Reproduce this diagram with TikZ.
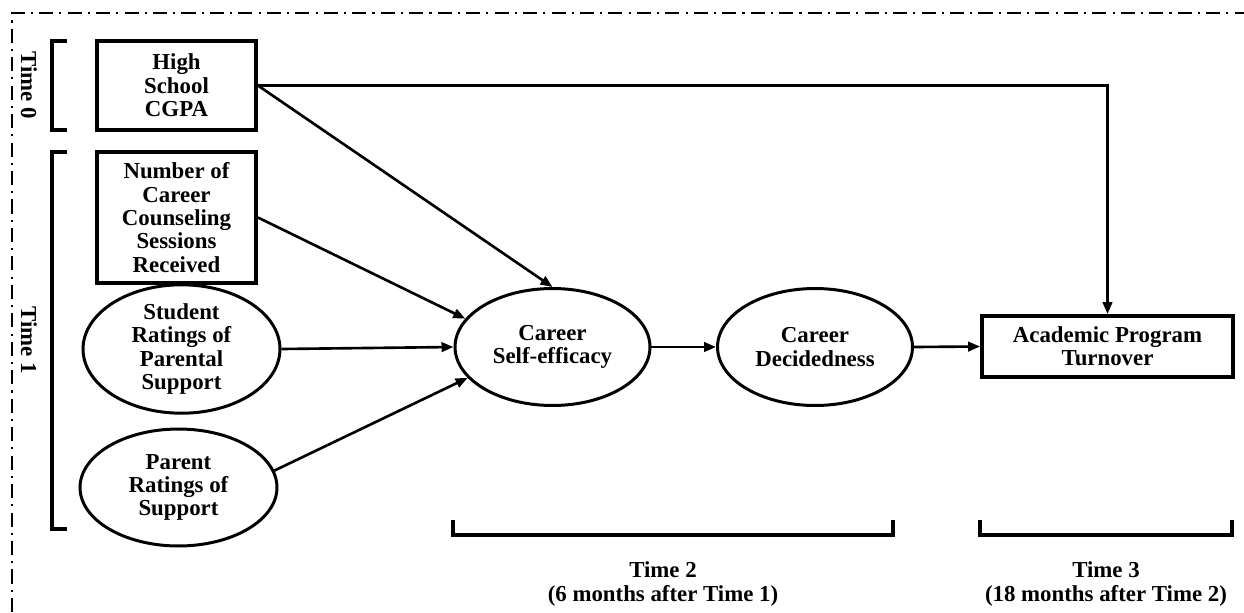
\documentclass[tikz,border=0pt]{standalone}
\usepackage{fontspec}
\setmainfont{Liberation Serif}
\usetikzlibrary{arrows.meta,shapes.geometric}

\begin{document}
\begin{tikzpicture}[x=0.02cm, y=-0.02cm,
  every node/.style={font=\bfseries\fontsize{13}{13.3}\selectfont, align=center},
  varbox/.style={shape=rectangle, draw=black, line width=2.2pt, inner sep=0pt},
  varell/.style={shape=ellipse, draw=black, line width=1.7pt, inner sep=0pt, minimum width=3.94cm, minimum height=2.34cm},
  link/.style={-{Triangle[length=2.4mm,width=1.9mm]}, line width=1.5pt, draw=black},
  tbracket/.style={line width=2.2pt, draw=black}]
\useasboundingbox (0,0) rectangle (1244,612);
\draw[line width=1.1pt, dash pattern=on 8pt off 3.5pt on 1.2pt off 3.5pt] (12,612) -- (12,13) -- (1244,13);

\node[varbox, minimum width=3.18cm, minimum height=1.78cm] (hs) at (176.5, 85.5) {High\\School\\CGPA};
\node[varbox, minimum width=3.18cm, minimum height=2.62cm] (ncs) at (176.5, 217.5) {Number of\\Career\\Counseling\\Sessions\\Received};
\node[varell] (srps) at (181.5, 349) {Student\\Ratings of\\Parental\\Support};
\node[varell] (prs) at (178.5, 487.5) {Parent\\Ratings of\\Support};
\node[varell, minimum width=3.9cm] (cse) at (552.5, 347) {Career\\Self-efficacy};
\node[varell, minimum width=3.9cm] (cd) at (815, 347) {Career\\Decidedness};
\node[varbox, minimum width=5.02cm, minimum height=1.22cm] (apt) at (1107.5, 346.5) {Academic Program\\Turnover};

\node[rotate=-90] (t0) at (29, 85.5) {Time 0};
\node[rotate=-90] (t1) at (29, 340) {Time 1};
\node (t2) at (663, 584) {Time 2\\(6 months after Time 1)};
\node (t3) at (1106, 584) {Time 3\\(18 months after Time 2)};

\draw[tbracket] (67,41) -- (52,41) -- (52,130) -- (67,130);
\draw[tbracket] (67,152) -- (52,152) -- (52,529) -- (67,529);
\draw[tbracket] (453,520) -- (453,535) -- (893,535) -- (893,520);
\draw[tbracket] (980,520) -- (980,535) -- (1232,535) -- (1232,520);

\draw[link] (hs.east) -| (apt.north);
\path (hs.east) edge[link] (cse.north);
\path (ncs.east) edge[link] (cse.162);
\path (srps.east) edge[link] (cse.west);
\path (prs.10) edge[link] (cse.200);
\path (cse.east) edge[link] (cd.west);
\path (cd.east) edge[link] (apt.west);
\end{tikzpicture}
\end{document}
